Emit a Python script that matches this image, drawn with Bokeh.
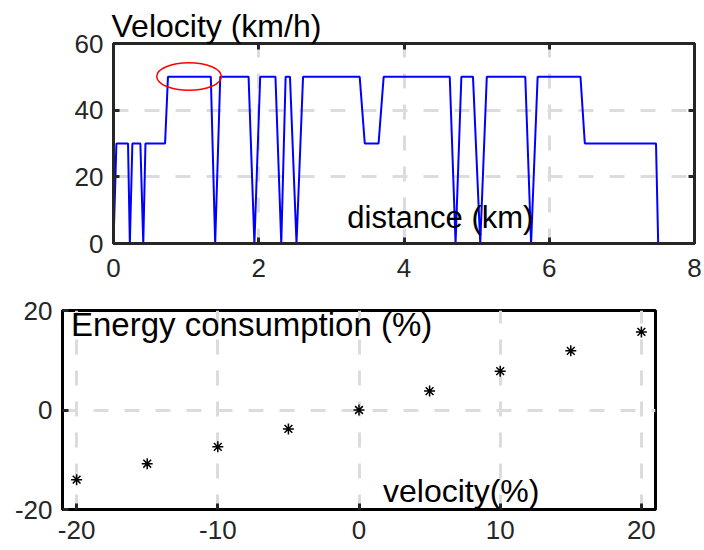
from bokeh.plotting import figure
from bokeh.models import Range1d, LinearAxis, Label, FixedTicker, Title
from bokeh.embed import file_html
from bokeh.resources import INLINE

# ---- data: velocity profile (top) ----
distance_km = [0, 0.04, 0.20, 0.225, 0.26, 0.37, 0.41, 0.44, 0.71, 0.75,
               1.34, 1.40, 1.47, 1.86, 1.94, 2.02, 2.23, 2.31, 2.37, 2.43,
               2.52, 2.61, 3.39, 3.46, 3.65, 3.72, 4.63, 4.71, 4.79, 4.95,
               5.05, 5.14, 5.67, 5.75, 5.84, 6.43, 6.49, 7.47, 7.50]
velocity_kmh = [0, 30, 30, 0, 30, 30, 0, 30, 30, 50,
                50, 0, 50, 50, 0, 50, 50, 0, 50, 50,
                0, 50, 50, 30, 30, 50, 50, 0, 50, 50,
                0, 50, 50, 0, 50, 50, 30, 30, 0]
highlight_x = [1.04]
highlight_y = [50.1]
highlight_w = [0.89]
highlight_h = [8.3]
top_xticks = [0, 2, 4, 6, 8]
top_yticks = [0, 20, 40, 60]

# ---- data: sensitivity (bottom) ----
velocity_change = [-20, -15, -10, -5, 0, 5, 10, 15, 20]
energy_change = [-14.0, -10.8, -7.4, -3.8, 0.0, 3.8, 7.8, 11.9, 15.7]
bot_xticks = [-20, -10, 0, 10, 20]
bot_yticks = [-20, 0, 20]

FONT = "Liberation Sans"
TICK_SIZE = "26px"
FRAME = "#262626"
GRID = "#dcdcdc"


def tick_labels(ticks):
    return {t: ("-%d" % -t if t < 0 else "%d" % t) for t in ticks}


def style_axis(ax, ticks, standoff=12):
    ax.ticker = FixedTicker(ticks=ticks)
    ax.major_label_overrides = tick_labels(ticks)
    ax.major_label_text_font = FONT
    ax.major_label_text_font_size = TICK_SIZE
    ax.major_label_text_color = FRAME
    ax.major_tick_in = 6
    ax.major_tick_out = 0
    ax.minor_tick_in = 0
    ax.minor_tick_out = 0
    ax.major_tick_line_width = 3
    ax.major_tick_line_color = FRAME
    ax.axis_line_width = 3
    ax.axis_line_color = FRAME
    ax.major_label_standoff = standoff


def style_grid(p):
    for g in (p.xgrid, p.ygrid):
        g.grid_line_color = GRID
        g.grid_line_width = 3
        g.grid_line_dash = "15 16"


# ---------------- top figure ----------------
p1 = figure(frame_width=581, frame_height=200,
            x_range=Range1d(0, 8), y_range=Range1d(0, 60),
            output_backend="svg", toolbar_location=None,
            min_border_left=113, min_border_top=43,
            min_border_right=8, min_border_bottom=47)
p1.outline_line_color = FRAME
p1.outline_line_width = 3
style_axis(p1.xaxis[0], top_xticks, standoff=15)
style_axis(p1.yaxis[0], top_yticks, standoff=10)
p1.xgrid.ticker = FixedTicker(ticks=top_xticks)
p1.ygrid.ticker = FixedTicker(ticks=top_yticks)
style_grid(p1)

for loc, ticks in (("above", top_xticks), ("right", top_yticks)):
    ax = LinearAxis()
    style_axis(ax, ticks, standoff=0)
    ax.major_label_overrides = {t: "" for t in ticks}
    p1.add_layout(ax, loc)

p1.line(distance_km, velocity_kmh, line_color="#0000ff", line_width=2)
p1.ellipse(x=highlight_x, y=highlight_y, width=highlight_w, height=highlight_h,
           fill_color=None, line_color="#ff0000", line_width=1.5)

p1.title = Title(text="Velocity (km/h)", align="left", offset=-2, standoff=0,
                 text_font=FONT, text_font_size="32px",
                 text_font_style="normal", text_color="black")
p1.add_layout(Label(x=3.22, y=7.8, text="distance (km)",
                    text_font=FONT, text_font_size="31px",
                    text_color="black", text_baseline="middle"))

# ---------------- bottom figure ----------------
p2 = figure(frame_width=593, frame_height=199,
            x_range=Range1d(-21, 21), y_range=Range1d(-20, 20),
            output_backend="svg", toolbar_location=None,
            min_border_left=62, min_border_top=20,
            min_border_right=40, min_border_bottom=41)
p2.outline_line_color = "black"
p2.outline_line_width = 3
style_axis(p2.xaxis[0], bot_xticks, standoff=11)
style_axis(p2.yaxis[0], bot_yticks, standoff=10)
p2.xaxis[0].axis_line_color = "black"
p2.yaxis[0].axis_line_color = "black"
p2.xgrid.ticker = FixedTicker(ticks=bot_xticks)
p2.ygrid.ticker = FixedTicker(ticks=bot_yticks)
style_grid(p2)

p2.scatter(velocity_change, energy_change, marker="asterisk", size=11,
           line_color="black", line_width=1.5)

p2.add_layout(Label(x=-20.4, y=17.1, text="Energy consumption (%)",
                    text_font=FONT, text_font_size="33px",
                    text_color="black", text_baseline="middle"))
p2.add_layout(Label(x=1.7, y=-16.2, text="velocity(%)",
                    text_font=FONT, text_font_size="32px",
                    text_color="black", text_baseline="middle"))

with open("out.html", "w") as f:
    f.write(file_html([p1, p2], INLINE))
